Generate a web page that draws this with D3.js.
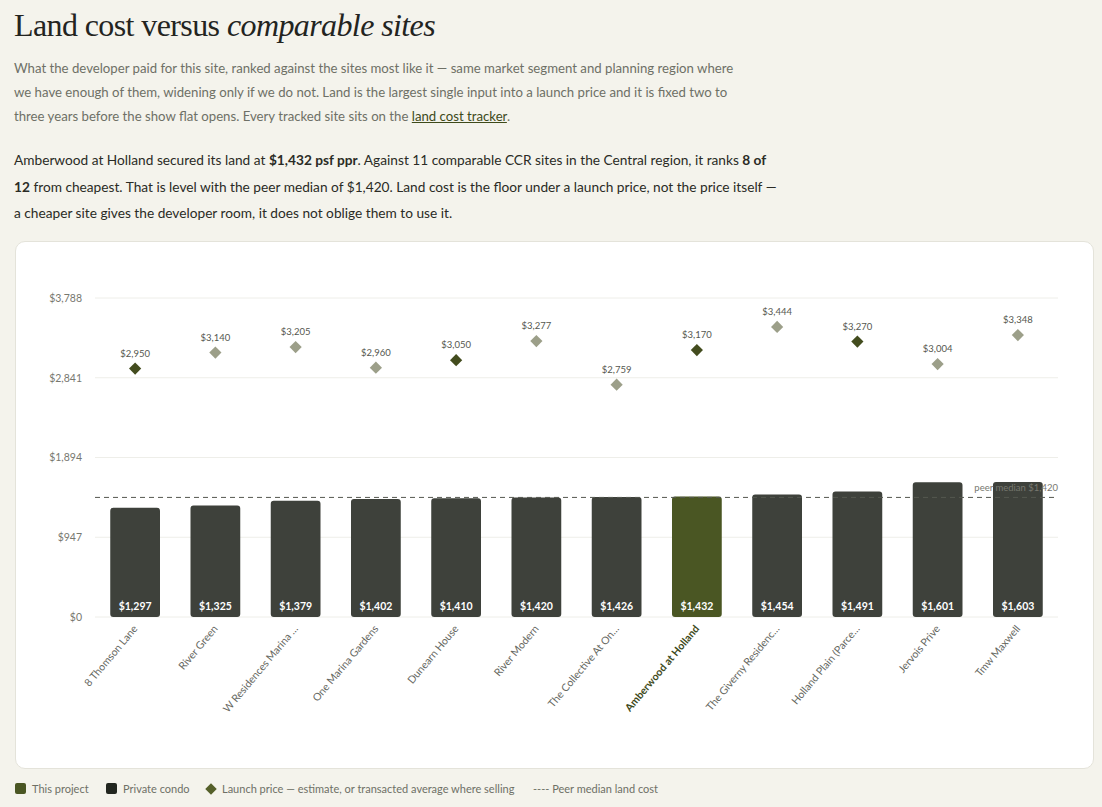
<!DOCTYPE html>
<html><head><meta charset="utf-8">
<script src="https://cdn.jsdelivr.net/npm/d3@7"></script>
<style>
body{margin:0;background:#f4f3ec;font-family:Lato,"Noto Sans",sans-serif;color:#2a2b25;}
#wrap{position:relative;width:1102px;height:807px;}
h1{position:absolute;left:14px;top:7px;margin:0;font-family:"Liberation Serif",serif;font-weight:400;font-size:32px;letter-spacing:-0.6px;color:#23241f;}
h1 i{font-style:italic;}
.p1{position:absolute;left:14px;top:56px;width:730px;font-size:13.2px;line-height:24px;color:#6e7066;margin:0;}
.p1 a{color:#3e4a1a;text-decoration:underline;}
.p2{position:absolute;left:14px;top:147px;width:770px;font-size:13.7px;line-height:26.5px;color:#2a2b25;margin:0;}
#card{position:absolute;left:15px;top:241px;width:1077px;height:526px;background:#fff;border:1px solid #e4e3da;border-radius:10px;}
svg{position:absolute;left:0;top:0;}
</style></head><body>
<div id="wrap">
<h1>Land cost versus <i>comparable sites</i></h1>
<p class="p1">What the developer paid for this site, ranked against the sites most like it — same market segment and planning region where we have enough of them, widening only if we do not. Land is the largest single input into a launch price and it is fixed two to three years before the show flat opens. Every tracked site sits on the <a>land cost tracker</a>.</p>
<p class="p2">Amberwood at Holland secured its land at <b>$1,432 psf ppr</b>. Against 11 comparable CCR sites in the Central region, it ranks <b>8 of 12</b> from cheapest. That is level with the peer median of $1,420. Land cost is the floor under a launch price, not the price itself — a cheaper site gives the developer room, it does not oblige them to use it.</p>
<div id="card"></div>
<svg id="chart" width="1102" height="807"></svg>
</div>
<script>
const categories=["8 Thomson Lane","River Green","W Residences Marina …","One Marina Gardens","Dunearn House","River Modern","The Collective At On…","Amberwood at Holland","The Giverny Residenc…","Holland Plain (Parce…","Jervois Prive","Tmw Maxwell"];
const landCost=[1297,1325,1379,1402,1410,1420,1426,1432,1454,1491,1601,1603];
const launchPrice=[2950,3140,3205,2960,3050,3277,2759,3170,3444,3270,3004,3348];
const launchDark=[true,false,false,false,true,false,false,true,false,true,false,false];
const thisProject="Amberwood at Holland";
const yTicks=[0,947,1894,2841,3788];
const peerMedian=1420;

const svg=d3.select("#chart");
const x=d3.scaleBand().domain(categories).range([95,1058]).paddingInner(0.38).paddingOuter(0.19);
const y=d3.scaleLinear().domain([0,3788]).range([617,298]);
const fmt=v=>"$"+d3.format(",")(v);

const g=svg.append("g");
g.selectAll(".grid").data(yTicks).join("line").attr("x1",95).attr("x2",1058)
 .attr("y1",d=>y(d)).attr("y2",d=>y(d)).attr("stroke","#eeeee9").attr("stroke-width",1);
const ax=svg.append("g").attr("transform","translate(85,0)").call(d3.axisLeft(y).tickValues(yTicks).tickFormat(fmt).tickSize(0));
ax.select(".domain").remove();
ax.selectAll("text").attr("font-family","Lato,sans-serif").attr("font-size",10.5).attr("fill","#77786f");

g.selectAll(".bar").data(categories).join("path")
 .attr("d",(d,i)=>{const x0=x(d),w=x.bandwidth(),y0=y(landCost[i]),r=3;
   return `M${x0},${617}V${y0+r}Q${x0},${y0} ${x0+r},${y0}H${x0+w-r}Q${x0+w},${y0} ${x0+w},${y0+r}V${617-r}Q${x0+w},617 ${x0+w-r},617H${x0+r}Q${x0},617 ${x0},${617-r}Z`;})
 .attr("fill",d=>d===thisProject?"#4a5623":"#3e413b");
g.selectAll(".bl").data(categories).join("text").attr("x",d=>x(d)+x.bandwidth()/2).attr("y",610)
 .attr("text-anchor","middle").attr("font-size",10.5).attr("font-weight","700").attr("fill","#fff")
 .text((d,i)=>fmt(landCost[i]));

g.append("line").attr("x1",95).attr("x2",1058).attr("y1",y(peerMedian)).attr("y2",y(peerMedian))
 .attr("stroke","#555750").attr("stroke-dasharray","5,4").attr("stroke-width",1);
g.append("text").attr("x",1058).attr("y",y(peerMedian)-6).attr("text-anchor","end").attr("font-size",9.5).attr("fill","#77786f").text("peer median "+fmt(peerMedian));

g.selectAll(".dm").data(categories).join("path")
 .attr("d",d3.symbol().type(d3.symbolDiamond2).size(95))
 .attr("transform",(d,i)=>`translate(${x(d)+x.bandwidth()/2},${y(launchPrice[i])})`)
 .attr("fill",(d,i)=>launchDark[i]?"#434c1e":"#9c9f89");
g.selectAll(".dl").data(categories).join("text").attr("x",d=>x(d)+x.bandwidth()/2).attr("y",(d,i)=>y(launchPrice[i])-12)
 .attr("text-anchor","middle").attr("font-size",9.5).attr("fill","#55574f").text((d,i)=>fmt(launchPrice[i]));

g.selectAll(".xl").data(categories).join("text")
 .attr("transform",d=>`translate(${x(d)+x.bandwidth()/2+3},${629}) rotate(-50)`)
 .attr("text-anchor","end").attr("font-size",10.5).attr("fill",d=>d===thisProject?"#3e4a1a":"#66685f")
 .attr("font-weight",d=>d===thisProject?"700":"400").text(d=>d);

const lg=svg.append("g").attr("transform","translate(15,789)").attr("font-size",11).attr("fill","#6e7066");
lg.append("rect").attr("x",0).attr("y",-6).attr("width",11).attr("height",11).attr("rx",2).attr("fill","#4a5623");
lg.append("text").attr("x",17).attr("y",4).text("This project");
lg.append("rect").attr("x",91).attr("y",-6).attr("width",11).attr("height",11).attr("rx",2).attr("fill","#22261f");
lg.append("text").attr("x",108).attr("y",4).text("Private condo");
lg.append("path").attr("d",d3.symbol().type(d3.symbolDiamond2).size(85)).attr("transform","translate(196,0)").attr("fill","#55602a");
lg.append("text").attr("x",207).attr("y",4).text("Launch price — estimate, or transacted average where selling");
lg.append("text").attr("x",518).attr("y",4).text("---- Peer median land cost");
</script>
</body></html>
